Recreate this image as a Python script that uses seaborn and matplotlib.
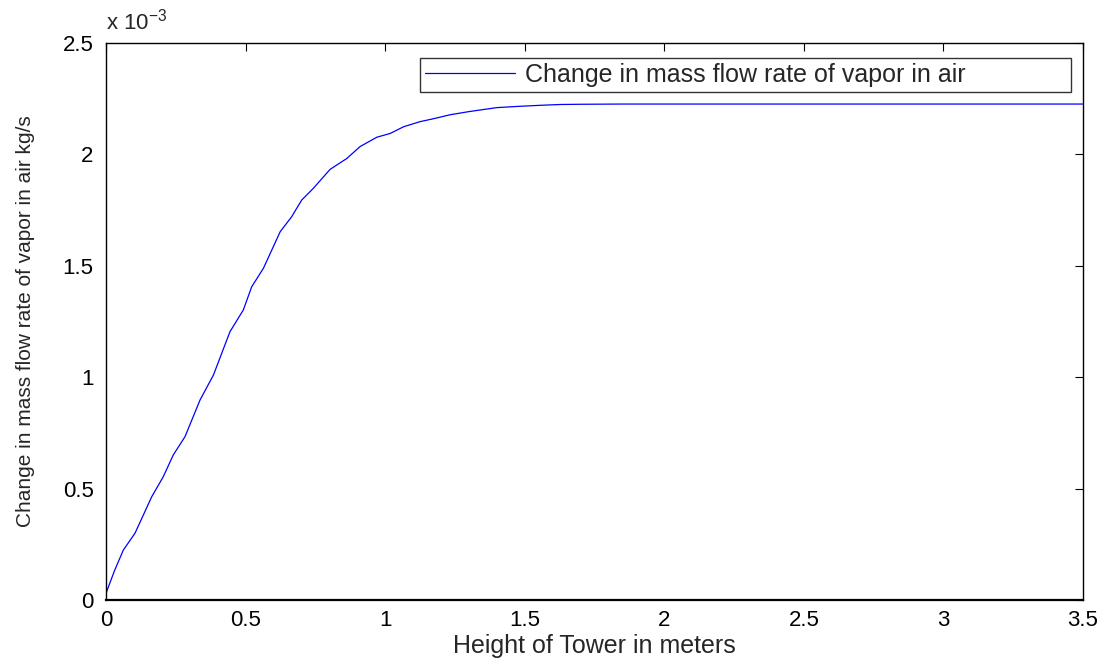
import matplotlib
matplotlib.use("Agg")
import matplotlib.pyplot as plt
import seaborn as sns
import pandas as pd
from matplotlib.ticker import FuncFormatter

height_m = [0.0, 0.03, 0.062, 0.104, 0.164, 0.205, 0.241, 0.283, 0.337, 0.385, 0.444, 0.492,
            0.522, 0.564, 0.624, 0.665, 0.701, 0.743, 0.803, 0.863, 0.910, 0.970, 1.018,
            1.066, 1.125, 1.173, 1.233, 1.30, 1.40, 1.484, 1.55, 1.627, 1.70, 1.85, 2.0,
            2.5, 3.0, 3.5]
vapor_flow = [0.03e-3, 0.13e-3, 0.224e-3, 0.30e-3, 0.464e-3, 0.553e-3, 0.651e-3, 0.733e-3,
              0.898e-3, 1.01e-3, 1.204e-3, 1.302e-3, 1.406e-3, 1.489e-3, 1.653e-3, 1.72e-3,
              1.795e-3, 1.848e-3, 1.933e-3, 1.982e-3, 2.035e-3, 2.077e-3, 2.094e-3, 2.124e-3,
              2.147e-3, 2.160e-3, 2.178e-3, 2.192e-3, 2.210e-3, 2.216e-3, 2.220e-3, 2.224e-3,
              2.225e-3, 2.226e-3, 2.226e-3, 2.226e-3, 2.226e-3, 2.226e-3]
x_ticks = [0, 0.5, 1, 1.5, 2, 2.5, 3, 3.5]
y_ticks = [0, 0.5e-3, 1.0e-3, 1.5e-3, 2.0e-3, 2.5e-3]
series_label = "Change in mass flow rate of vapor in air"

sns.set_style("white")
plt.rcParams['font.family'] = ['Liberation Sans', 'DejaVu Sans']

fig = plt.figure(figsize=(11.1, 6.64), dpi=100)
ax = fig.add_axes([106/1110, 1-600/664, (1083-106)/1110, (600-43)/664])

df = pd.DataFrame({"h": height_m, "v": vapor_flow})
sns.lineplot(data=df, x="h", y="v", ax=ax, color=(0, 0, 1), linewidth=0.9, label=series_label)

ax.set_xlim(0, 3.5)
ax.set_ylim(0, 2.5e-3)
ax.set_xticks(x_ticks)
ax.set_yticks(y_ticks)
ax.xaxis.set_major_formatter(FuncFormatter(lambda v, p: f"{v:g}"))
ax.yaxis.set_major_formatter(FuncFormatter(lambda v, p: f"{v/1e-3:g}"))
ax.tick_params(direction='in', length=6, width=0.8, top=True, right=True,
               labelsize=16, colors='black')
ax.tick_params(axis='x', pad=7)
ax.tick_params(axis='y', pad=9)
for s in ax.spines.values():
    s.set_color('black')
    s.set_linewidth(1.0)
ax.spines['bottom'].set_linewidth(1.6)

ax.set_xlabel("Height of Tower in meters", fontsize=18, labelpad=2)
ax.set_ylabel("Change in mass flow rate of vapor in air kg/s", fontsize=15)
ax.yaxis.set_label_coords(-0.0727, 0.5)
ax.text(0.0, 1.015, r"x 10$^{\mathregular{-3}}$", transform=ax.transAxes, fontsize=16,
        ha='left', va='bottom')

leg = ax.legend(loc='lower left', bbox_to_anchor=(0.3214, 0.912, 0.666, 0.068),
                mode='expand', fontsize=18, frameon=True, fancybox=False,
                handlelength=3.6, borderpad=0.2, handletextpad=0.4, borderaxespad=0)
leg.get_frame().set_edgecolor('black')
leg.get_frame().set_linewidth(1.0)

fig.savefig("out.png", dpi=100)
